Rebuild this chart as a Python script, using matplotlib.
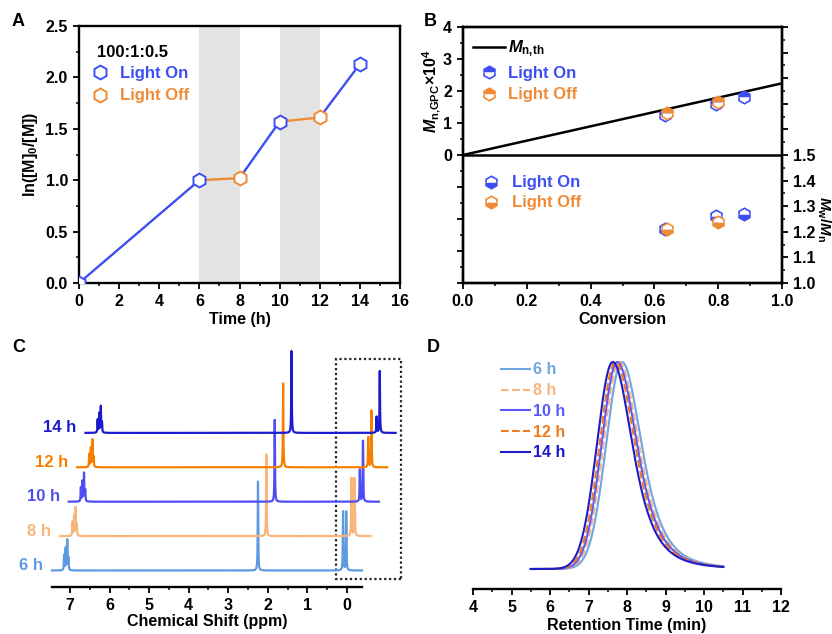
import numpy as np
import matplotlib.pyplot as plt
from matplotlib.lines import Line2D
from matplotlib.patches import Rectangle
from matplotlib.ticker import MultipleLocator

plt.rcParams['font.family'] = ['Liberation Sans', 'DejaVu Sans']
plt.rcParams['font.weight'] = 'bold'
plt.rcParams['axes.labelweight'] = 'bold'
plt.rcParams['mathtext.fontset'] = 'custom'
plt.rcParams['mathtext.rm'] = 'Liberation Sans:bold'
plt.rcParams['mathtext.bf'] = 'Liberation Sans:bold'
plt.rcParams['mathtext.it'] = 'Liberation Sans:italic:bold'
plt.rcParams['axes.linewidth'] = 1.7

BLUE = '#3d4ef2'
ORANGE = '#ef8a35'

# ---- panel A: kinetics with light on/off
time_h = [0, 6, 8, 10, 12, 14]
ln_ratio = [0.0, 1.00, 1.02, 1.57, 1.61, 2.13]
light = ['on', 'on', 'off', 'on', 'off', 'on']
dark_windows = [(6, 8), (10, 12)]

# ---- panel B: Mn and dispersity vs conversion
conv_on = [0.632, 0.792, 0.881]
mn_on = [1.25, 1.59, 1.80]
pdi_on = [1.21, 1.26, 1.27]
conv_off = [0.641, 0.800]
mn_off = [1.32, 1.66]
pdi_off = [1.21, 1.24]
mn_th_conv = [0.0, 1.0]
mn_th = [0.0, 2.24]

# ---- panel C: 1H NMR peaks (ppm, height) per sample
nmr_labels = ['6 h', '8 h', '10 h', '12 h', '14 h']
nmr_colors = ['#5d9ae0', '#f9b67a', '#4d4df0', '#f77f00', '#1a1ad0']
aro_ppm = [7.15, 7.11, 7.07, 7.04]
aro_h = [[15, 22, 30, 12], [14, 20, 28, 11], [14, 20, 28, 11], [13, 19, 27, 10], [13, 19, 26, 10]]
ch3_ppm = 2.25
ch3_h = [89, 82, 82, 84, 82]
si_ppm = [0.10, 0.02]
si_h = [[59, 59], [58, 58], [32, 61], [30, 57], [16, 62]]

# ---- panel D: GPC traces
gpc_labels = ['6 h', '8 h', '10 h', '12 h', '14 h']
gpc_colors = ['#6fa5e0', '#f5b584', '#5a5aff', '#f07a1e', '#1c1cc8']
gpc_styles = ['-', '--', '-', '--', '-']
gpc_peak_min = [7.87, 7.80, 7.75, 7.70, 7.63]

W, H = 832, 634
fig = plt.figure(figsize=(W / 100, H / 100), dpi=100)


def box(l, t, r, b):
    return [l / W, 1 - b / H, (r - l) / W, (b - t) / H]


def style_ticks(ax, **kw):
    ax.tick_params(which='major', direction='out', length=4.5, width=1.3, labelsize=11.5, **kw)
    ax.tick_params(which='minor', direction='out', length=2.5, width=1.1, **kw)


# ================= A
axA = fig.add_axes(box(79, 26, 400, 283))
for a, b in dark_windows:
    axA.axvspan(a, b, color='#e3e3e3', lw=0, zorder=0)
for i in range(1, len(time_h)):
    c = BLUE if light[i] == 'on' else ORANGE
    axA.plot(time_h[i - 1:i + 1], ln_ratio[i - 1:i + 1], color=c, lw=1.7, zorder=2)
for st, c in (('on', BLUE), ('off', ORANGE)):
    xs = [t for t, s in zip(time_h, light) if s == st]
    ys = [v for v, s in zip(ln_ratio, light) if s == st]
    axA.plot(xs, ys, ls='none', marker='h', ms=10, mfc='white', mec=c, mew=1.4, zorder=3)
axA.set_xlim(0, 16)
axA.set_ylim(0, 2.5)
axA.xaxis.set_major_locator(MultipleLocator(2))
axA.xaxis.set_minor_locator(MultipleLocator(1))
axA.yaxis.set_major_locator(MultipleLocator(0.5))
axA.yaxis.set_minor_locator(MultipleLocator(0.25))
axA.yaxis.set_major_formatter('{x:.1f}')
style_ticks(axA)
axA.set_xlabel('Time (h)', fontsize=11.5, labelpad=2)
axA.set_ylabel('ln([M]$_0$/[M])', fontsize=11.5, labelpad=4)
axA.text(0.056, 0.898, '100:1:0.5', transform=axA.transAxes, fontsize=12, va='center')
hA = [Line2D([], [], ls='none', marker='h', ms=10, mfc='white', mec=BLUE, mew=1.4),
      Line2D([], [], ls='none', marker='h', ms=10, mfc='white', mec=ORANGE, mew=1.4)]
axA.legend(hA, ['Light On', 'Light Off'], loc='upper left', bbox_to_anchor=(0.035, 0.845),
           frameon=False, fontsize=12, handlelength=1.2, handletextpad=0.6,
           labelspacing=0.45, borderpad=0, borderaxespad=0, labelcolor=[BLUE, ORANGE])

# ================= B
axB = fig.add_axes(box(463, 27, 782, 283))
axB.set_xlim(0, 1)
axB.set_ylim(-4, 4)
axB.axhline(0, color='black', lw=1.8, zorder=1)
axB.plot(mn_th_conv, mn_th, color='black', lw=1.8, zorder=2)
mk = dict(ls='none', marker='h', ms=9, mew=1.2, zorder=3)
axB.plot(conv_on, mn_on, color=BLUE, mec=BLUE, mfc=BLUE, mfcalt='white', fillstyle='top', **mk)
axB.plot(conv_off, mn_off, color=ORANGE, mec=ORANGE, mfc=ORANGE, mfcalt='white', fillstyle='top', **mk)
axB.set_yticks(range(-4, 5))
axB.set_yticklabels([''] * 4 + ['0', '1', '2', '3', '4'])
axB.yaxis.set_minor_locator(MultipleLocator(0.5))
axB.xaxis.set_major_locator(MultipleLocator(0.2))
axB.xaxis.set_minor_locator(MultipleLocator(0.1))
axB.xaxis.set_major_formatter('{x:.1f}')
style_ticks(axB)
axB.set_xlabel('Conversion', fontsize=11.5, labelpad=2)
axB.set_ylabel(r'$M_{\rm n{,}GPC}$×10$^{\rm 4}$', fontsize=11.5)
axB.yaxis.set_label_coords(-0.063, 0.75)
hB = [Line2D([], [], color='black', lw=1.8),
      Line2D([], [], color=BLUE, mec=BLUE, mfc=BLUE, mfcalt='white', fillstyle='top', **mk),
      Line2D([], [], color=ORANGE, mec=ORANGE, mfc=ORANGE, mfcalt='white', fillstyle='top', **mk)]
axB.legend(hB, [r'$M_{\rm n{,}th}$', 'Light On', 'Light Off'], loc='upper left',
           bbox_to_anchor=(0.031, 0.955), frameon=False, fontsize=12, handlelength=1.9,
           handletextpad=0.2, labelspacing=0.4, borderpad=0, borderaxespad=0,
           labelcolor=['black', BLUE, ORANGE])

axR = axB.twinx()
axR.set_ylim(1.0, 2.0)
axR.plot(conv_on, pdi_on, color=BLUE, mec=BLUE, mfc=BLUE, mfcalt='white', fillstyle='bottom', **mk)
axR.plot(conv_off, pdi_off, color=ORANGE, mec=ORANGE, mfc=ORANGE, mfcalt='white', fillstyle='bottom', **mk)
rt = np.round(np.arange(1.0, 2.01, 0.1), 1)
axR.set_yticks(rt)
axR.set_yticklabels([f'{v:.1f}' if v <= 1.5 else '' for v in rt])
axR.yaxis.set_minor_locator(MultipleLocator(0.05))
style_ticks(axR)
axR.set_ylabel(r'$M_{\rm w}$/$M_{\rm n}$', fontsize=11, rotation=270, va='bottom')
axR.yaxis.set_label_coords(1.105, 0.25)
hR = [Line2D([], [], color=BLUE, mec=BLUE, mfc=BLUE, mfcalt='white', fillstyle='bottom', **mk),
      Line2D([], [], color=ORANGE, mec=ORANGE, mfc=ORANGE, mfcalt='white', fillstyle='bottom', **mk)]
axR.legend(hR, ['Light On', 'Light Off'], loc='upper left', bbox_to_anchor=(0.038, 0.42),
           frameon=False, fontsize=12, handlelength=1.9, handletextpad=0.3,
           labelspacing=0.3, borderpad=0, borderaxespad=0, labelcolor=[BLUE, ORANGE])

# ================= C
axC = fig.add_axes(box(52, 340, 405, 587))
px_per_ppm = 39.57
x_left, x_right = 7.455, -0.38
axC.set_xlim(x_left, 7.0 - (405 - 70) / px_per_ppm)
axC.set_ylim(0, 247)
grid = np.linspace(x_left, x_right, 9000)
hw = 0.007
shift_ppm = 0.212
base0, step = 16.5, 34.4


def lor(x, x0, h):
    return h / (1 + ((x - x0) / hw) ** 2)


for i, lab in enumerate(nmr_labels):
    spec = np.zeros_like(grid)
    for p, h in zip(aro_ppm, aro_h[i]):
        spec += lor(grid, p, h)
    spec += lor(grid, ch3_ppm, ch3_h[i])
    for p, h in zip(si_ppm, si_h[i]):
        spec += lor(grid, p, h)
    base = base0 + i * step
    axC.plot(grid - i * shift_ppm, base + spec, color=nmr_colors[i], lw=1.6, clip_on=False)
    axC.text(x_left - i * shift_ppm + 9 / px_per_ppm, base + 5, lab, ha='right', va='center',
             color=nmr_colors[i], fontsize=12, clip_on=False)
axC.add_patch(Rectangle((-1.365, 8), 1.65, 220, fill=False, ec='#222222', lw=1.6,
                        ls=(0, (1, 1.2)), clip_on=False))
for s in ('left', 'right', 'top'):
    axC.spines[s].set_visible(False)
axC.spines['bottom'].set_bounds(x_left, x_right)
axC.set_yticks([])
axC.set_xticks(range(0, 8))
axC.set_xticks(np.arange(0, 7.5, 0.5), minor=True)
style_ticks(axC)
axC.set_xlabel('Chemical Shift (ppm)', fontsize=11.5)
axC.xaxis.set_label_coords((x_left + x_right) / 2, -0.11, transform=axC.get_xaxis_transform())

# ================= D
axD = fig.add_axes(box(473, 340, 781, 589))
t = np.linspace(5.5, 10.5, 800)
for mu, lab, c, ls in zip(gpc_peak_min, gpc_labels, gpc_colors, gpc_styles):
    left = np.exp(-0.5 * ((t - mu) / 0.41) ** 2)
    right = (1 + ((t - mu) / 0.95) ** 2) ** -2
    axD.plot(t, np.where(t < mu, left, right), color=c, ls=ls, lw=1.5, label=lab)
axD.set_xlim(4, 12)
axD.set_ylim(-20 / 207, 229 / 207)
for s in ('left', 'right', 'top'):
    axD.spines[s].set_visible(False)
axD.set_yticks([])
axD.xaxis.set_major_locator(MultipleLocator(1))
axD.xaxis.set_minor_locator(MultipleLocator(0.5))
style_ticks(axD)
axD.set_xlabel('Retention Time (min)', fontsize=11.5, labelpad=2)
axD.legend(loc='upper left', bbox_to_anchor=(0.091, 0.91), frameon=False, fontsize=11.5,
           handlelength=1.8, handletextpad=0.2, labelspacing=0.36, borderpad=0,
           borderaxespad=0, labelcolor='linecolor')

# panel letters
for (x, y), letter in zip([(18, 21), (430, 21), (19, 348), (433, 348)], 'ABCD'):
    fig.text(x / W, 1 - y / H, letter, fontsize=13, ha='center', va='center')

fig.savefig('out.png', dpi=100)
